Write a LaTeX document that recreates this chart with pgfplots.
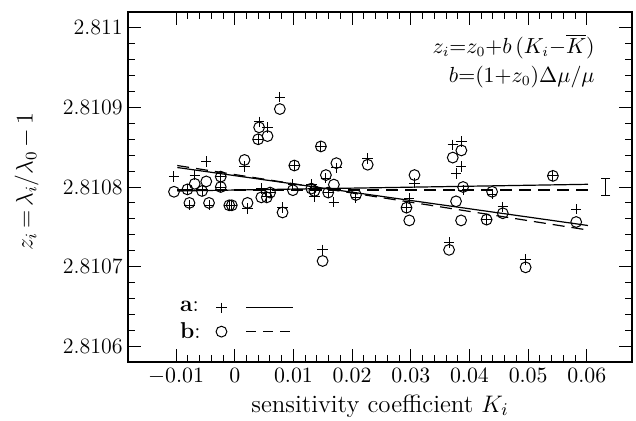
\documentclass[border=0pt]{standalone}
\usepackage{pgfplots}
\usepackage{pgfplotstable}
\pgfplotsset{compat=1.18}

% K, z for fit a (+) and fit b (o)
\pgfplotstableread{
K        za        zb
-0.01036 2.810813 2.810794
-0.00807 2.810797 2.810797
-0.00773 2.810777 2.810780
-0.00683 2.810815 2.810804
-0.00558 2.810795 2.810795
-0.00486 2.810832 2.810807
-0.00439 2.810777 2.810780
-0.00239 2.810813 2.810813
-0.00239 2.810800 2.810800
-0.00094 2.810777 2.810777
-0.00051 2.810777 2.810777
0.00166  2.810826 2.810834
0.00217  2.810773 2.810780
0.00398  2.810860 2.810860
0.00415  2.810882 2.810875
0.00558  2.810875 2.810864
0.00452  2.810798 2.810787
0.00546  2.810788 2.810787
0.00602  2.810793 2.810793
0.00768  2.810913 2.810898
0.00814  2.810774 2.810768
0.00990  2.810803 2.810796
0.01015  2.810827 2.810827
0.01305  2.810803 2.810798
0.01357  2.810788 2.810795
0.01468  2.810851 2.810851
0.01497  2.810721 2.810707
0.01553  2.810811 2.810815
0.01592  2.810793 2.810793
0.01689  2.810781 2.810803
0.01732  2.810824 2.810830
0.02065  2.810787 2.810790
0.02265  2.810836 2.810828
0.02927  2.810774 2.810774
0.02974  2.810786 2.810758
0.03063  2.810805 2.810815
0.03652  2.810730 2.810721
0.03715  2.810853 2.810837
0.03771  2.810817 2.810782
0.03857  2.810826 2.810758
0.03862  2.810857 2.810846
0.03891  2.810796 2.810800
0.04292  2.810759 2.810759
0.04386  2.810791 2.810794
0.04568  2.810775 2.810767
0.04957  2.810709 2.810699
0.05422  2.810814 2.810814
0.05819  2.810772 2.810756
}\pairs

% straight-line fits, end points
\pgfplotstableread{
K       sa        sb        ta        tb
-0.0098 2.810795  2.8107962 2.8108245 2.8108270
0.0602  2.8108034 2.8107962 2.8107516 2.8107459
}\fits

% typical error bar
\pgfplotstableread{
K      z
0.0632 2.810789
0.0632 2.810811
}\errbar

\begin{document}
\begin{tikzpicture}
\useasboundingbox (-64bp,-29.5bp) rectangle (254bp,181bp);
\begin{axis}[
    scale only axis,
    width=252bp, height=175bp,
    xmin=-0.0182, xmax=0.0677,
    ymin=2.81058, ymax=2.81102,
    % z values differ only in the 6th decimal: shift them before pgfplots sees them
    y coord trafo/.code={\edef\pgfmathresult{\fpeval{(#1-2.8108)*1000000}}},
    xtick={-0.01,0,0.01,0.02,0.03,0.04,0.05,0.06},
    xticklabels={$-0.01$,$0$,$0.01$,$0.02$,$0.03$,$0.04$,$0.05$,$0.06$},
    ytick={2.8106,2.8107,2.8108,2.8109,2.811},
    yticklabels={2.8106,2.8107,2.8108,2.8109,2.811},
    scaled x ticks=false, scaled y ticks=false,
    minor x tick num=4, minor y tick num=4,
    tick pos=both, tick align=inside,
    major tick length=6.5bp, minor tick length=3.3bp,
    every tick/.style={black, line width=0.5bp},
    axis line style={line width=0.6bp},
    tick label style={font=\fontsize{11}{13}\selectfont},
    xticklabel style={inner sep=2bp, yshift=-1bp},
    yticklabel style={inner sep=2.5bp},
    xlabel={sensitivity coefficient $K_i$},
    ylabel={$z_i\,{=}\,\lambda_i/\lambda_0\,{-}\,1$},
    xlabel style={at={(axis description cs:0.5,0)}, anchor=center, yshift=-22bp,
        font=\fontsize{12.5}{14}\selectfont},
    ylabel style={at={(axis description cs:-0.201,0.515)}, anchor=center,
        font=\fontsize{12}{14}\selectfont},
    legend plot pos=right,
    legend cell align=left,
    legend style={at={(0.086,0.117)}, anchor=west, draw=none, fill=none,
        font=\fontsize{11.5}{13}\selectfont, row sep=1.5bp,
        nodes={inner sep=1.2bp}},
]
\addplot[only marks, mark=+, mark size=2.6bp, mark options={line width=0.5bp},
    legend image code/.code={
        \path (0,0);
        \draw[line width=0.5bp] plot[mark=+, mark size=2.6bp] coordinates {(9bp,0)};
        \draw[line width=0.6bp] (21.5bp,0) -- (45bp,0);}]
    table[x=K, y=za] {\pairs};
\addlegendentry{\textbf{a}:}
\addplot[only marks, mark=o, mark size=2.7bp, mark options={line width=0.5bp},
    legend image code/.code={
        \path (0,0);
        \draw[line width=0.5bp] plot[mark=o, mark size=2.7bp] coordinates {(9bp,0)};
        \draw[line width=0.6bp, dash pattern=on 5bp off 3.5bp] (21.5bp,0) -- (45bp,0);}]
    table[x=K, y=zb] {\pairs};
\addlegendentry{\textbf{b}:}

% fits
\addplot[forget plot, line width=0.6bp] table[x=K, y=sa] {\fits};
\addplot[forget plot, line width=0.6bp, dash pattern=on 6bp off 3.5bp] table[x=K, y=sb] {\fits};
\addplot[forget plot, line width=0.6bp] table[x=K, y=ta] {\fits};
\addplot[forget plot, line width=0.6bp, dash pattern=on 6bp off 3.5bp] table[x=K, y=tb] {\fits};

% typical error
\addplot[forget plot, line width=0.6bp, mark=-, mark size=2.3bp] table[x=K, y=z] {\errbar};

\node[anchor=east, inner sep=0pt, font=\fontsize{10.5}{12}\selectfont] at (rel axis cs:0.9266,0.901)
    {$z_i{=}z_0{+}b\,(K_i{-}\overline{K})$};
\node[anchor=east, inner sep=0pt, font=\fontsize{10.5}{12}\selectfont] at (rel axis cs:0.9266,0.815)
    {$b{=}(1{+}z_0)\Delta\mu/\mu$};
\end{axis}
\end{tikzpicture}
\end{document}
